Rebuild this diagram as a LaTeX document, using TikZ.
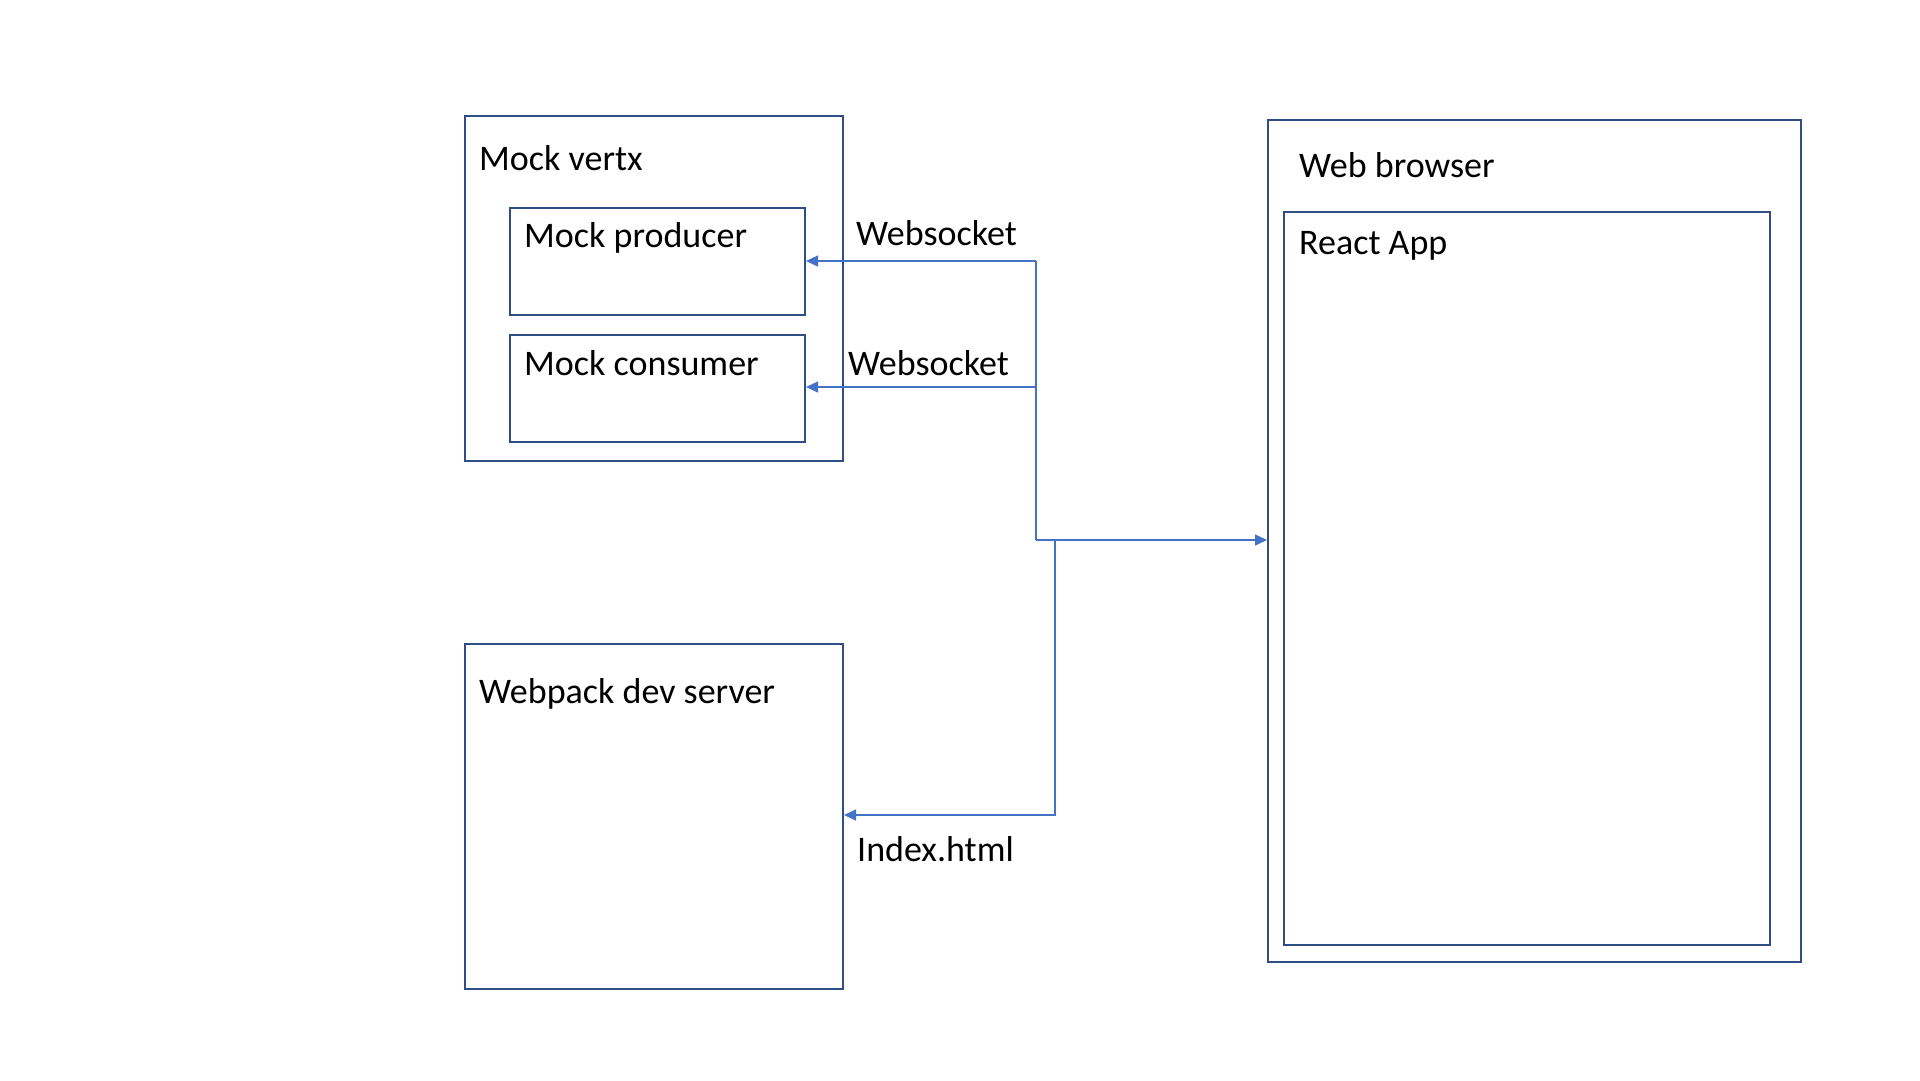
\documentclass[tikz,border=0pt]{standalone}
\usepackage{fontspec}
\setmainfont{Carlito}
\usetikzlibrary{arrows.meta}
\definecolor{boxblue}{HTML}{2F4E86}
\definecolor{linkblue}{HTML}{4472C4}
\tikzset{
  boxnode/.style={draw=boxblue, line width=2pt, fill=none, anchor=north west, inner sep=0pt},
  lbl/.style={anchor=base west, inner sep=0pt, font=\fontsize{36}{43}\selectfont, text=black},
  conn/.style={draw=linkblue, line width=1.4pt, -{Triangle[length=12pt,width=11pt]}},
  wire/.style={draw=linkblue, line width=1.4pt}
}
\begin{document}
\begin{tikzpicture}[x=1pt,y=-1pt]
\useasboundingbox (0,0) rectangle (1920,1080);
\fill[white] (0,0) rectangle (1920,1080);
% boxes
\node[boxnode, minimum width=378pt, minimum height=345pt] (vertx) at (464,115) {};
\node[boxnode, minimum width=295pt, minimum height=107pt] (prod) at (509,207) {};
\node[boxnode, minimum width=295pt, minimum height=107pt] (cons) at (509,334) {};
\node[boxnode, minimum width=378pt, minimum height=345pt] (webpack) at (464,643) {};
\node[boxnode, minimum width=533pt, minimum height=842pt] (browser) at (1267,119) {};
\node[boxnode, minimum width=486pt, minimum height=733pt] (react) at (1283,211) {};
% labels
\node[lbl] (tvertx) at (479,170) {Mock vertx};
\node[lbl] (tprod) at (524,247) {Mock producer};
\node[lbl] (tcons) at (524,375) {Mock consumer};
\node[lbl] (twebpack) at (479,703) {Webpack dev server};
\node[lbl] (tbrowser) at (1299,177) {Web browser};
\node[lbl] (treact) at (1299,254) {React App};
\node[lbl] (tws1) at (856,245) {Websocket};
\node[lbl] (tws2) at (848,375) {Websocket};
\node[lbl] (tindex) at (857,861) {Index.html};
% connector points
\coordinate (ptop) at (1036,261);
\coordinate (ctop) at (1036,387);
\coordinate (bus) at (1036,540);
\coordinate (bus2) at (1055,540);
\coordinate (ibend) at (1055,815);
% connectors
\draw[wire] (ptop) -- (bus);
\draw[conn] (ptop) -- (ptop -| prod.east);
\draw[conn] (ctop) -- (ctop -| cons.east);
\draw[conn] (bus) -- (bus -| browser.west);
\draw[conn] (bus2) -- (ibend) -- (ibend -| webpack.east);
\end{tikzpicture}
\end{document}
